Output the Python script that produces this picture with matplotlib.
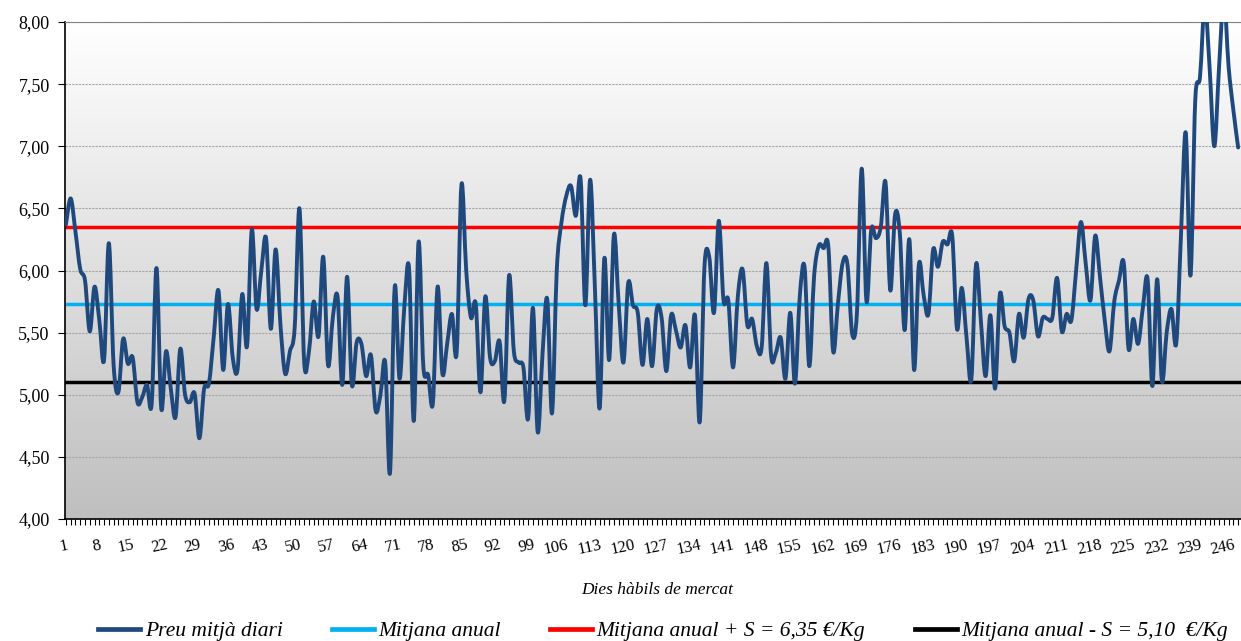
import numpy as np
import matplotlib.pyplot as plt
from matplotlib.path import Path
from matplotlib.patches import PathPatch
from matplotlib.lines import Line2D
from matplotlib.colors import LinearSegmentedColormap
from matplotlib.ticker import FuncFormatter, MultipleLocator

plt.rcParams['font.family'] = ['Liberation Serif', 'DejaVu Serif']

# daily average price (EUR/kg), working market days 1..247
price = [
    6.37, 6.58, 6.31, 6.01, 5.92, 5.51, 5.87, 5.60, 5.28, 6.22,
    5.24, 5.02, 5.45, 5.25, 5.30, 4.94, 4.98, 5.08, 4.93, 6.02,
    4.89, 5.35, 5.05, 4.82, 5.37, 5.00, 4.94, 5.01, 4.65, 5.05,
    5.09, 5.46, 5.84, 5.20, 5.73, 5.30, 5.20, 5.81, 5.39, 6.33,
    5.69, 6.00, 6.26, 5.53, 6.17, 5.57, 5.17, 5.35, 5.54, 6.50,
    5.26, 5.35, 5.75, 5.47, 6.11, 5.24, 5.62, 5.79, 5.08, 5.95,
    5.08, 5.42, 5.41, 5.15, 5.32, 4.87, 5.00, 5.26, 4.37, 5.87,
    5.13, 5.70, 6.02, 4.79, 6.23, 5.23, 5.16, 4.93, 5.87, 5.17,
    5.41, 5.65, 5.34, 6.69, 6.00, 5.62, 5.73, 5.02, 5.79, 5.30,
    5.27, 5.43, 4.95, 5.96, 5.35, 5.26, 5.22, 4.81, 5.70, 4.70,
    5.32, 5.77, 4.85, 6.00, 6.39, 6.60, 6.68, 6.44, 6.74, 5.72,
    6.73, 5.87, 4.89, 6.10, 5.28, 6.29, 5.73, 5.26, 5.90, 5.72,
    5.66, 5.24, 5.61, 5.23, 5.69, 5.62, 5.19, 5.64, 5.52, 5.38,
    5.56, 5.22, 5.64, 4.78, 6.03, 6.11, 5.66, 6.40, 5.76, 5.76,
    5.22, 5.79, 6.01, 5.56, 5.61, 5.39, 5.38, 6.06, 5.31, 5.34,
    5.46, 5.13, 5.66, 5.09, 5.79, 6.03, 5.23, 5.95, 6.20, 6.18,
    6.19, 5.35, 5.73, 6.06, 6.05, 5.49, 5.66, 6.82, 5.75, 6.33,
    6.26, 6.35, 6.71, 5.84, 6.45, 6.30, 5.52, 6.25, 5.20, 6.05,
    5.80, 5.65, 6.17, 6.03, 6.23, 6.21, 6.28, 5.53, 5.86, 5.46,
    5.12, 6.05, 5.60, 5.15, 5.64, 5.05, 5.81, 5.55, 5.50, 5.27,
    5.65, 5.46, 5.77, 5.76, 5.47, 5.62, 5.61, 5.62, 5.94, 5.51,
    5.65, 5.60, 6.00, 6.39, 6.06, 5.76, 6.28, 5.95, 5.60, 5.35,
    5.75, 5.92, 6.06, 5.37, 5.61, 5.41, 5.70, 5.93, 5.07, 5.93,
    5.11, 5.50, 5.69, 5.41, 6.28, 7.11, 5.96, 7.37, 7.56, 8.15,
    7.64, 7.00, 7.64, 8.20, 7.64, 7.29, 6.99,
]
mean_price = 5.73
upper_value = 6.35
lower_value = 5.10

tick_days = list(range(1, 247, 7))
labels = [
    'Preu mitjà diari',
    'Mitjana anual',
    'Mitjana anual + S = 6,35 €/Kg',
    'Mitjana anual - S = 5,10  €/Kg',
]
colors = ['#1F497D', '#00B0F0', '#FF0000', '#000000']

days = np.arange(1, len(price) + 1)
y = np.array(price)

fig = plt.figure(figsize=(12.41, 6.41), dpi=100)
ax = fig.add_axes([65 / 1241, 1 - 519 / 641, 1 - 65 / 1241, (519 - 22) / 641])

xmin, xmax = 0.8, 247.6
ymin, ymax = 4.0, 8.0

# gradient background, white at top to grey at bottom
cmap = LinearSegmentedColormap.from_list('bg', ['#bfbfbf', '#ffffff'])
ax.imshow(np.linspace(1, 0, 256).reshape(-1, 1), cmap=cmap, aspect='auto',
          extent=(xmin, xmax, ymin, ymax), zorder=0)

ax.yaxis.grid(True, color='#a6a6a6', lw=0.8, ls=(0, (2, 1)), zorder=0.5)

# reference lines
ax.axhline(mean_price, color=colors[1], lw=2.5, zorder=2)
ax.axhline(upper_value, color=colors[2], lw=2.5, zorder=2)
ax.axhline(lower_value, color=colors[3], lw=2.5, zorder=2)

# smoothed price line (Catmull-Rom as cubic Bezier)
pts = np.column_stack([days, y])
verts = [pts[0]]
codes = [Path.MOVETO]
n = len(pts)
for i in range(n - 1):
    p0 = pts[max(i - 1, 0)]
    p1 = pts[i]
    p2 = pts[i + 1]
    p3 = pts[min(i + 2, n - 1)]
    verts += [p1 + (p2 - p0) / 6, p2 - (p3 - p1) / 6, p2]
    codes += [Path.CURVE4] * 3
ax.add_patch(PathPatch(Path(verts, codes), fill=False, edgecolor=colors[0],
                       lw=2.8, zorder=3, capstyle='round', joinstyle='round'))

ax.set_xlim(xmin, xmax)
ax.set_ylim(ymin, ymax)

ax.set_xticks(tick_days)
ax.set_xticklabels([str(d) for d in tick_days], rotation=12, fontsize=12,
                   ha='right', va='top', rotation_mode='anchor')
ax.xaxis.set_minor_locator(MultipleLocator(1))
ax.tick_params(axis='x', which='both', direction='out', length=4, width=0.8, pad=9)
ax.yaxis.set_major_locator(MultipleLocator(0.5))
ax.yaxis.set_major_formatter(FuncFormatter(lambda v, p: f'{v:.2f}'.replace('.', ',')))
ax.tick_params(axis='y', direction='out', length=5, width=0.8, labelsize=13, pad=6)

for side in ['left', 'bottom']:
    ax.spines[side].set_color('black')
    ax.spines[side].set_linewidth(1.2)
ax.spines['top'].set_color('#808080')
ax.spines['right'].set_visible(False)

fig.text(657 / 1241, 1 - 590 / 641, 'Dies hàbils de mercat', ha='center',
         va='center', style='italic', fontsize=12.5)

handles = [Line2D([], [], color=c, lw=3.4) for c in colors]
fig.legend(handles, labels, loc='center', bbox_to_anchor=(663 / 1241, 1 - 631 / 641),
           ncol=4, frameon=False, handlelength=1.95, handletextpad=0.2,
           columnspacing=2.3, prop={'style': 'italic', 'size': 15.5})

plt.savefig('out.png', dpi=100)
